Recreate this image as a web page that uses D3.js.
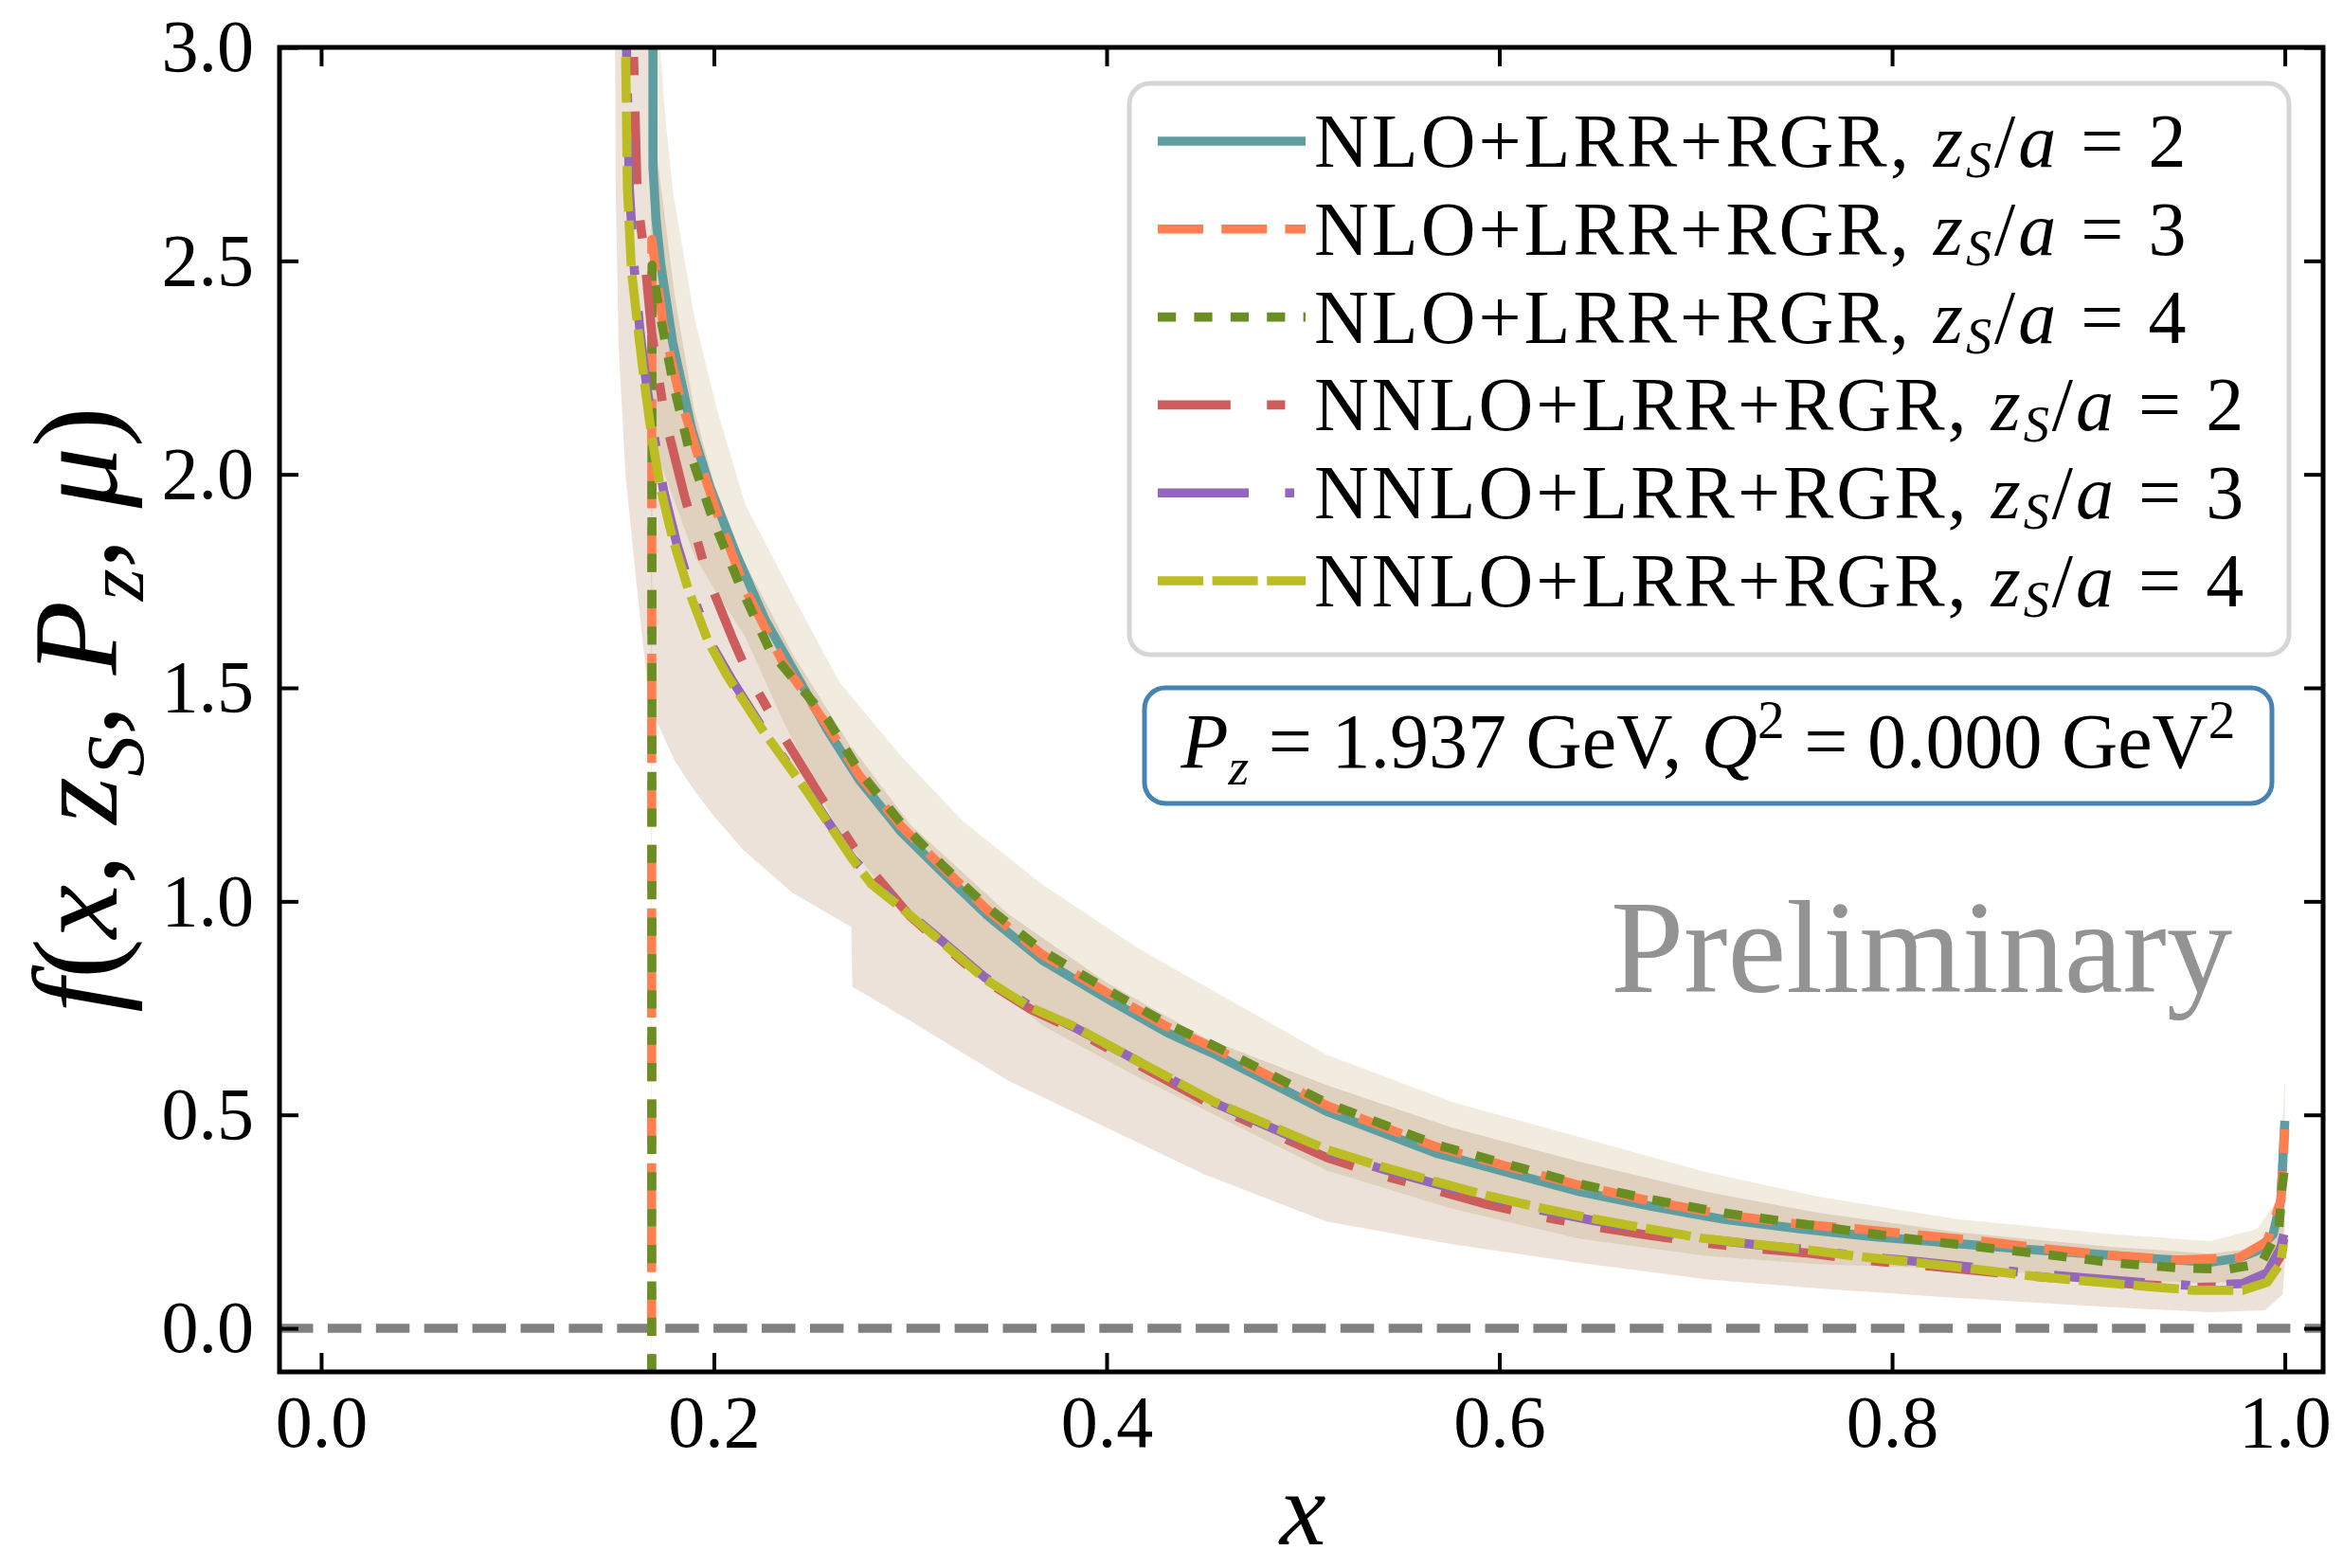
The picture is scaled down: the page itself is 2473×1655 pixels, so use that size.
<!DOCTYPE html>
<html>
<head>
<meta charset="utf-8">
<script src="https://cdn.jsdelivr.net/npm/d3@7"></script>
<style>
  body { margin: 0; background: #ffffff; }
  text { font-family: "Liberation Serif", "DejaVu Serif", serif; }
</style>
</head>
<body>
<div id="chart"></div>
<script>
// ---- values ----
var xTickValues = [0.0, 0.2, 0.4, 0.6, 0.8, 1.0];
var yTickValues = [0.0, 0.5, 1.0, 1.5, 2.0, 2.5, 3.0];
var orders = ["NLO", "NLO", "NLO", "NNLO", "NNLO", "NNLO"];
var zsValues = [2, 3, 4, 2, 3, 4];
var pzValue = "1.937";
var q2Value = "0.000";

// NLO+LRR+RGR, zS/a = 2
var nloZ2X = [0.1686, 0.1690, 0.1705, 0.1730, 0.1790, 0.1887, 0.1980, 0.2110, 0.2260, 0.2420,
  0.2580, 0.2740, 0.2950, 0.3175, 0.3397, 0.3670, 0.3995, 0.4310, 0.4555, 0.5120,
  0.5680, 0.6036, 0.6410, 0.6770, 0.7146, 0.7530, 0.7900, 0.8290, 0.8660, 0.9000,
  0.9300, 0.9620, 0.9770, 0.9860, 0.9940, 0.9980, 1.0000];
var nloZ2Y = [6.0, 2.72, 2.60, 2.49, 2.31, 2.106, 1.97, 1.817, 1.66, 1.53,
  1.40, 1.285, 1.165, 1.063, 0.965, 0.863, 0.774, 0.692, 0.641, 0.508,
  0.41, 0.366, 0.32, 0.286, 0.255, 0.233, 0.215, 0.200, 0.186, 0.175,
  0.164, 0.155, 0.165, 0.182, 0.22, 0.30, 0.486];

// NLO+LRR+RGR, zS/a = 3
var nloZ3X = [0.1682, 0.1684, 0.1742, 0.1824, 0.1935, 0.2031, 0.2162, 0.2355, 0.2580, 0.2740,
  0.2950, 0.3175, 0.3397, 0.3670, 0.3995, 0.4310, 0.4555, 0.5120, 0.5680, 0.6036,
  0.6410, 0.6770, 0.7146, 0.7530, 0.7820, 0.8460, 0.8790, 0.9120, 0.9450, 0.9770,
  0.9910, 0.9980, 1.0000];
var nloZ3Y = [-3.0, 2.55, 2.35, 2.186, 2.02, 1.89, 1.728, 1.557, 1.41, 1.295,
  1.178, 1.075, 0.978, 0.876, 0.788, 0.706, 0.655, 0.522, 0.425, 0.38,
  0.335, 0.298, 0.266, 0.244, 0.233, 0.204, 0.186, 0.171, 0.160, 0.166,
  0.204, 0.30, 0.466];

// NLO+LRR+RGR, zS/a = 4
var nloZ4X = [0.1682, 0.1685, 0.1718, 0.1790, 0.1872, 0.1993, 0.2137, 0.2287, 0.2580, 0.2740,
  0.2950, 0.3175, 0.3397, 0.3670, 0.3995, 0.4310, 0.4555, 0.5120, 0.5680, 0.6036,
  0.6410, 0.6770, 0.7146, 0.7660, 0.8000, 0.8400, 0.8800, 0.9140, 0.9450, 0.9700,
  0.9880, 0.9970, 0.9985, 1.0000];
var nloZ4Y = [-3.0, 2.49, 2.394, 2.22, 2.06, 1.897, 1.735, 1.586, 1.425, 1.305,
  1.185, 1.08, 0.985, 0.885, 0.795, 0.713, 0.66, 0.528, 0.43, 0.385,
  0.338, 0.302, 0.27, 0.237, 0.215, 0.193, 0.172, 0.153, 0.142, 0.138,
  0.152, 0.233, 0.326, 0.38];

// NNLO+LRR+RGR, zS/a = 2
var nnloZ2X = [0.1575, 0.1590, 0.1610, 0.1645, 0.1684, 0.1750, 0.1850, 0.1970, 0.2094, 0.2176,
  0.2350, 0.2550, 0.2750, 0.3000, 0.3175, 0.3380, 0.3610, 0.3830, 0.4070, 0.4550,
  0.5120, 0.5390, 0.5665, 0.5940, 0.6210, 0.6485, 0.6760, 0.7035, 0.7305, 0.7580,
  0.7855, 0.8144, 0.8434, 0.8720, 0.8980, 0.9250, 0.9540, 0.9785, 0.9910, 0.9980,
  0.9995];
var nnloZ2Y = [4.0, 3.0, 2.645, 2.52, 2.33, 2.134, 1.95, 1.757, 1.617, 1.53,
  1.39, 1.24, 1.10, 0.965, 0.895, 0.815, 0.748, 0.70, 0.64, 0.52,
  0.40, 0.36, 0.325, 0.29, 0.262, 0.238, 0.218, 0.20, 0.187, 0.176,
  0.16, 0.148, 0.135, 0.122, 0.112, 0.103, 0.096, 0.098, 0.12, 0.17,
  0.21];

// NNLO+LRR+RGR, zS/a = 3
var nnloZ3X = [0.1540, 0.1555, 0.1570, 0.1595, 0.1625, 0.1660, 0.1700, 0.1745, 0.1810, 0.1890,
  0.1990, 0.2090, 0.2270, 0.2490, 0.2707, 0.2948, 0.3175, 0.3380, 0.3610, 0.3830,
  0.4070, 0.4550, 0.5120, 0.5390, 0.5665, 0.5940, 0.6210, 0.6485, 0.6760, 0.7035,
  0.7305, 0.7580, 0.7855, 0.8144, 0.8434, 0.8720, 0.8980, 0.9250, 0.9540, 0.9785,
  0.9910, 0.9980, 0.9995];
var nnloZ3Y = [4.0, 3.0, 2.667, 2.48, 2.33, 2.20, 2.08, 1.96, 1.84, 1.72,
  1.60, 1.52, 1.39, 1.25, 1.10, 0.99, 0.902, 0.822, 0.755, 0.706,
  0.648, 0.528, 0.413, 0.375, 0.34, 0.305, 0.277, 0.252, 0.23, 0.21,
  0.196, 0.184, 0.168, 0.156, 0.142, 0.128, 0.118, 0.108, 0.10, 0.105,
  0.13, 0.19, 0.22];

// NNLO+LRR+RGR, zS/a = 4
var nnloZ4X = [0.1535, 0.1550, 0.1560, 0.1580, 0.1610, 0.1645, 0.1680, 0.1727, 0.1790, 0.1870,
  0.1970, 0.2065, 0.2250, 0.2470, 0.2707, 0.2803, 0.2948, 0.3175, 0.3380, 0.3610,
  0.3830, 0.4070, 0.4550, 0.5120, 0.5390, 0.5665, 0.5940, 0.6210, 0.6485, 0.6760,
  0.7035, 0.7305, 0.7580, 0.7855, 0.8144, 0.8434, 0.8720, 0.8980, 0.9250, 0.9540,
  0.9785, 0.9910, 0.9978, 0.9993];
var nnloZ4Y = [4.0, 3.0, 2.667, 2.48, 2.356, 2.22, 2.10, 1.97, 1.85, 1.73,
  1.61, 1.53, 1.40, 1.26, 1.098, 1.04, 0.987, 0.899, 0.818, 0.752,
  0.708, 0.648, 0.53, 0.419, 0.38, 0.345, 0.311, 0.282, 0.256, 0.233,
  0.211, 0.197, 0.183, 0.167, 0.153, 0.138, 0.122, 0.111, 0.100, 0.089,
  0.089, 0.108, 0.152, 0.197];

// error bands (envelope of each order)
var nloBandX = [0.1680, 0.1686, 0.1710, 0.1750, 0.1790, 0.1900, 0.2017, 0.2160, 0.2355, 0.2640,
  0.2950, 0.3270, 0.3670, 0.4154, 0.4637, 0.5120, 0.5760, 0.6410, 0.7050, 0.7630,
  0.8340, 0.9140, 0.9620, 0.9860, 0.9960, 0.9990, 1.0000];
var nloBandHi = [6.0, 6.0, 3.1, 2.85, 2.667, 2.37, 2.15, 1.93, 1.757, 1.513,
  1.342, 1.187, 1.04, 0.892, 0.766, 0.641, 0.53, 0.448, 0.366, 0.308,
  0.255, 0.22, 0.204, 0.233, 0.30, 0.50, 0.59];
var nloBandLo = [-1.0, 2.10, 2.05, 2.0, 1.95, 1.81, 1.72, 1.62, 1.42, 1.16,
  0.98, 0.87, 0.71, 0.59, 0.48, 0.37, 0.28, 0.21, 0.17, 0.15,
  0.14, 0.115, 0.105, 0.115, 0.15, 0.22, 0.30];

var nnloBandX = [0.1490, 0.1500, 0.1515, 0.1550, 0.1607, 0.1660, 0.1710, 0.1800, 0.1900, 0.2000,
  0.2150, 0.2400, 0.2700, 0.2705, 0.3000, 0.3500, 0.4000, 0.4500, 0.5120, 0.5760,
  0.6410, 0.7050, 0.7630, 0.8340, 0.9140, 0.9620, 0.9900, 0.9990, 1.0000];
var nnloBandLo = [4.0, 2.667, 2.30, 2.0, 1.74, 1.51, 1.42, 1.33, 1.26, 1.20,
  1.12, 1.02, 0.94, 0.80, 0.72, 0.58, 0.47, 0.36, 0.25, 0.197,
  0.153, 0.115, 0.093, 0.071, 0.049, 0.038, 0.042, 0.08, 0.15];
var nnloBandHi = [4.0, 4.0, 4.0, 4.0, 4.0, 3.4, 2.75, 2.42, 2.15, 1.98,
  1.80, 1.58, 1.36, 1.36, 1.18, 0.97, 0.81, 0.68, 0.57, 0.47,
  0.39, 0.32, 0.27, 0.225, 0.19, 0.175, 0.19, 0.32, 0.40];

//Define SVG area
var svgWidth = 2473;
var svgHeight = 1655;

var chartMargin = { top: 50, right: 21, bottom: 207, left: 295 };
var chartWidth = svgWidth - chartMargin.left - chartMargin.right;
var chartHeight = svgHeight - chartMargin.top - chartMargin.bottom;

var svg = d3.select("#chart")
  .append("svg")
  .attr("width", svgWidth)
  .attr("height", svgHeight);

var chartGroup = svg.append("g")
  .attr("transform", `translate(${chartMargin.left}, ${chartMargin.top})`);

var xScale = d3.scaleLinear().domain([-0.0212, 1.0195]).range([0, chartWidth]);
var yScale = d3.scaleLinear().domain([-0.102, 3.0]).range([chartHeight, 0]);

var lw = 9.6;
var seriesStyle = [
  { color: "#5f9ea0", dash: null },
  { color: "#ff7f50", dash: [5, 2] },
  { color: "#6b8e23", dash: [2, 2] },
  { color: "#cd5c5c", dash: [8, 4, 2, 4] },
  { color: "#9467bd", dash: [10, 4, 1, 4] },
  { color: "#bcbd22", dash: [5, 1] }
];
var seriesX = [nloZ2X, nloZ3X, nloZ4X, nnloZ2X, nnloZ3X, nnloZ4X];
var seriesY = [nloZ2Y, nloZ3Y, nloZ4Y, nnloZ2Y, nnloZ3Y, nnloZ4Y];

function dashString(d) {
  return d ? d.map(v => v * lw).join(",") : null;
}

// clip to the axes box
svg.append("defs").append("clipPath").attr("id", "plotclip")
  .append("rect").attr("width", chartWidth).attr("height", chartHeight);

var plot = chartGroup.append("g").attr("clip-path", "url(#plotclip)");

// zero line
plot.append("line")
  .attr("x1", 0).attr("x2", chartWidth)
  .attr("y1", yScale(0)).attr("y2", yScale(0))
  .attr("stroke", "#808080")
  .attr("stroke-width", lw)
  .attr("stroke-dasharray", "35.5,15.4");

// bands, multiplied so the overlap gets darker
var bands = [
  { x: nloBandX, lo: nloBandLo, hi: nloBandHi, fill: "#f2ebdf" },
  { x: nnloBandX, lo: nnloBandLo, hi: nnloBandHi, fill: "#ece2da" }
];
var bandGroup = plot.append("g").style("isolation", "isolate");
bands.forEach(function (b) {
  var area = d3.area()
    .x((d, i) => xScale(b.x[i]))
    .y0((d, i) => yScale(b.lo[i]))
    .y1((d, i) => yScale(b.hi[i]));
  bandGroup.append("path")
    .datum(b.x)
    .attr("d", area)
    .attr("fill", b.fill)
    .style("mix-blend-mode", "multiply");
});

// curves
seriesX.forEach(function (xs, k) {
  var line = d3.line()
    .x((d, i) => xScale(xs[i]))
    .y((d, i) => yScale(seriesY[k][i]));
  plot.append("path")
    .datum(xs)
    .attr("d", line)
    .attr("fill", "none")
    .attr("stroke", seriesStyle[k].color)
    .attr("stroke-width", lw)
    .attr("stroke-linejoin", "round")
    .attr("stroke-dasharray", dashString(seriesStyle[k].dash));
});

// axes, ticks pointing inward
var fmt = d3.format(".1f");
var axisFont = 78;

var bottomAxis = d3.axisBottom(xScale).tickValues(xTickValues).tickFormat(fmt)
  .tickSizeInner(-20).tickSizeOuter(0).tickPadding(24);
var topAxis = d3.axisTop(xScale).tickValues(xTickValues).tickFormat("")
  .tickSizeInner(-20).tickSizeOuter(0);
var leftAxis = d3.axisLeft(yScale).tickValues(yTickValues).tickFormat(fmt)
  .tickSizeInner(-20).tickSizeOuter(0).tickPadding(27);
var rightAxis = d3.axisRight(yScale).tickValues(yTickValues).tickFormat("")
  .tickSizeInner(-20).tickSizeOuter(0);

var axes = [
  chartGroup.append("g").attr("transform", `translate(0, ${chartHeight})`).call(bottomAxis),
  chartGroup.append("g").call(topAxis),
  chartGroup.append("g").call(leftAxis),
  chartGroup.append("g").attr("transform", `translate(${chartWidth}, 0)`).call(rightAxis)
];
axes.forEach(function (g) {
  g.attr("font-family", null).attr("font-size", null);
  g.select(".domain").remove();
  g.selectAll(".tick line").attr("stroke", "#000").attr("stroke-width", 4);
  g.selectAll(".tick text").attr("fill", "#000").style("font-size", axisFont + "px");
});

// spines
chartGroup.append("rect")
  .attr("width", chartWidth).attr("height", chartHeight)
  .attr("fill", "none").attr("stroke", "#000").attr("stroke-width", 5);

// helper: text with italic parts, subscripts and superscripts
function addMath(textSel, parts, fs, subShift) {
  var shift = 0;
  subShift = subShift || 0.22;
  parts.forEach(function (p) {
    var t = textSel.append("tspan").text(p[0]);
    var target = 0;
    if (p[1] === "i") t.attr("font-style", "italic");
    if (p[1] === "sub") {
      t.attr("font-style", "italic").style("font-size", (fs * 0.68) + "px");
      target = fs * subShift;
    }
    if (p[1] === "sup") {
      t.style("font-size", (fs * 0.7) + "px");
      target = -fs * 0.38;
    }
    if (target !== shift) t.attr("dy", target - shift);
    shift = target;
  });
}

// axis labels
var yLabel = svg.append("text")
  .attr("transform", "translate(123, 749) rotate(-90)")
  .attr("text-anchor", "middle")
  .style("font-size", "128px");
addMath(yLabel, [["f", "i"], ["(", ""], ["x", "i"], [", ", ""], ["z", "i"], ["S", "sub"],
  [", ", ""], ["P", "i"], ["z", "sub"], [", ", ""], ["μ", "i"], [")", ""]], 128);

svg.append("text")
  .attr("x", chartMargin.left + xScale(0.5))
  .attr("y", 1630)
  .attr("text-anchor", "middle")
  .attr("font-style", "italic")
  .style("font-size", "110px")
  .text("x");

// watermark
svg.append("text")
  .attr("x", 1700).attr("y", 1047)
  .attr("fill", "#939393")
  .style("font-size", "139px")
  .text("Preliminary");

// momentum box
svg.append("rect")
  .attr("x", 1208).attr("y", 726).attr("width", 1190).attr("height", 122)
  .attr("rx", 22)
  .attr("fill", "#fff").attr("stroke", "#4682b4").attr("stroke-width", 5);
var boxText = svg.append("text")
  .attr("x", 1803).attr("y", 810)
  .attr("text-anchor", "middle")
  .style("font-size", "82px");
addMath(boxText, [["P", "i"], ["z", "sub"], [" = " + pzValue + " GeV, ", ""], ["Q", "i"], ["2", "sup"],
  [" = " + q2Value + " GeV", ""], ["2", "sup"]], 82);

// legend
var legend = svg.append("g");
legend.append("rect")
  .attr("x", 1192).attr("y", 88).attr("width", 1224).attr("height", 603)
  .attr("rx", 22)
  .attr("fill", "#fff").attr("fill-opacity", 0.8)
  .attr("stroke", "#d6d6d6").attr("stroke-width", 5);

orders.forEach(function (ord, k) {
  var cy = 149 + k * 92.8;
  legend.append("line")
    .attr("x1", 1222).attr("x2", 1378)
    .attr("y1", cy).attr("y2", cy)
    .attr("stroke", seriesStyle[k].color)
    .attr("stroke-width", lw)
    .attr("stroke-dasharray", dashString(seriesStyle[k].dash));
  var t = legend.append("text")
    .attr("x", 1387).attr("y", cy + 27)
    .style("font-size", "80px")
    .style("letter-spacing", "3px");
  addMath(t, [[ord + "+LRR+RGR, ", ""], ["z", "i"], ["S", "sub"], ["/", ""], ["a", "i"],
    [" = " + zsValues[k], ""]], 80, 0.14);
});
</script>
</body>
</html>
